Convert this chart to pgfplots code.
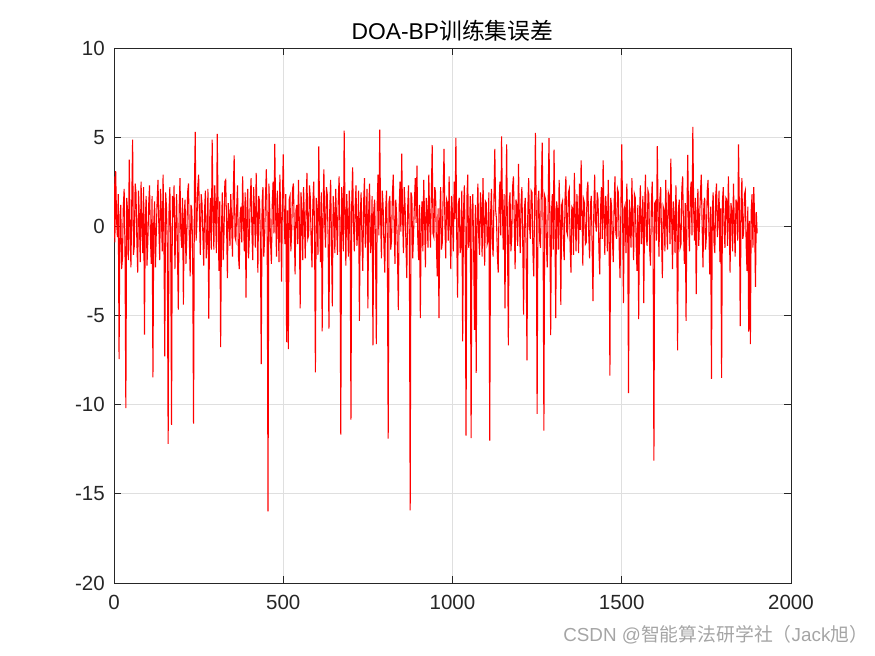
\documentclass[border=0pt]{standalone}
\usepackage{pgfplots}
\pgfplotsset{compat=1.18}
\usepackage{fontspec}
\setmainfont{Liberation Sans}
\newfontfamily\cjk{Noto Sans CJK SC}
\definecolor{axgray}{RGB}{38,38,38}
\definecolor{gridgray}{RGB}{223,223,223}
\definecolor{wmgray}{RGB}{165,165,165}
\begin{document}
\begin{tikzpicture}
\useasboundingbox (0,0) rectangle (525pt,393.6pt);
\begin{axis}[
  at={(68.4pt,43.8pt)}, anchor=south west,
  width=406.2pt, height=321pt, scale only axis,
  xmin=0, xmax=2000, ymin=-20, ymax=10,
  xtick={0,500,1000,1500,2000},
  ytick={-20,-15,-10,-5,0,5,10},
  grid=major,
  major grid style={gridgray, line width=0.5pt},
  axis line style={axgray, line width=0.55pt},
  tick style={axgray, line width=0.55pt},
  tick align=inside,
  major tick length=4pt,
  /pgf/number format/assume math mode=true,
  /pgf/number format/1000 sep={},
  ticklabel style={font=\fontsize{12.3}{14}\selectfont, text=axgray},
  xticklabel style={yshift=-3.8pt},
  yticklabel style={xshift=-2pt},
  title={DOA-BP{\cjk 训练集误差}},
  title style={font=\fontsize{13.7}{16}\selectfont, anchor=base, at={(0.5,1)}, yshift=-1.2pt},
]
\addplot[red, line width=0.65pt, mark=none] coordinates {
(0,2.8)(2.5,-0.9)(5,3.09)(7.5,0.4)(10,-0.6)(12.5,1.8)(15,-7.44)(17.5,0.6)(20,1.2)(22.5,-2.4)(25,-1.8)(27.5,1.1)(30,2.1)(32.5,-1.3)(35,-10.19)(37.5,1.6)(40,0.9)(42.5,-1.9)(45,3.74)(47.5,-0.2)(50,-2.3)(52.5,1.4)(55,4.86)(57.5,-1.6)(60,-1.1)(62.5,2.4)(65,1.9)(67.5,-0.8)(70,-2.6)(72.5,2.0)(75,0.4)(77.5,-2.0)(80,2.5)(82.5,0.1)(85,-1.5)(87.5,2.2)(90,-6.07)(92.5,0.3)(95,1.7)(97.5,-2.2)
(100,-0.8)(102.5,1.2)(105,2.3)(107.5,-0.5)(110,-2.1)(112.5,1.7)(115,-8.47)(117.5,0.2)(120,1.4)(122.5,-2.3)(125,-0.3)(127.5,1.5)(130,2.6)(132.5,0.0)(135,-1.9)(137.5,2.1)(140,0.7)(142.5,-1.4)(145,2.9)(147.5,-0.7)(150,-7.29)(152.5,1.9)(155,1.1)(157.5,-1.2)(160,-12.2)(162.5,0.8)(165,2.2)(167.5,-0.9)(170,-11.14)(172.5,1.7)(175,0.5)(177.5,2.3)(180,-2.4)(182.5,0.1)(185,1.8)(187.5,-1.5)(190,-4.67)(192.5,1.0)(195,2.7)(197.5,-0.4)
(200,-1.2)(202.5,1.6)(205,-4.39)(207.5,0.7)(210,1.5)(212.5,-2.1)(215,-0.7)(217.5,1.9)(220,2.4)(222.5,-0.6)(225,-2.8)(227.5,1.2)(230,0.9)(232.5,-1.7)(235,-11.07)(237.5,2.0)(240,5.29)(242.5,-0.8)(245,0.2)(247.5,2.2)(250,2.9)(252.5,0.5)(255,-1.6)(257.5,1.8)(260,1.3)(262.5,-0.4)(265,-2.2)(267.5,0.9)(270,2.0)(272.5,-1.8)(275,-0.9)(277.5,2.1)(280,-5.18)(282.5,0.3)(285,1.6)(287.5,-1.3)(290,4.86)(292.5,0.9)(295,-1.3)(297.5,2.3)
(300,0.8)(302.5,-1.5)(305,5.18)(307.5,1.0)(310,-2.5)(312.5,1.4)(315,-6.78)(317.5,-0.2)(320,1.9)(322.5,-1.9)(325,-0.4)(327.5,2.5)(330,2.6)(332.5,0.2)(335,-2.9)(337.5,1.3)(340,0.6)(342.5,-1.1)(345,1.8)(347.5,0.3)(350,-1.7)(352.5,2.0)(355,3.98)(357.5,-0.6)(360,-0.8)(362.5,1.1)(365,2.3)(367.5,-1.6)(370,-2.4)(372.5,0.7)(375,1.1)(377.5,-0.9)(380,2.8)(382.5,0.4)(385,-1.4)(387.5,1.9)(390,-4.0)(392.5,0.8)(395,2.1)(397.5,-1.8)
(400,-0.5)(402.5,1.5)(405,2.7)(407.5,-0.3)(410,-1.9)(412.5,2.2)(415,0.9)(417.5,-1.2)(420,3.0)(422.5,0.6)(425,-2.6)(427.5,1.7)(430,1.4)(432.5,-0.8)(435,-7.72)(437.5,1.3)(440,2.2)(442.5,-1.7)(445,-0.6)(447.5,1.6)(450,3.2)(452.5,0.1)(455,-15.98)(457.5,2.4)(460,1.0)(462.5,-0.9)(465,-2.1)(467.5,1.2)(470,2.5)(472.5,-0.4)(475,4.62)(477.5,0.8)(480,-1.7)(482.5,2.0)(485,0.3)(487.5,-2.0)(490,2.9)(492.5,0.5)(495,-3.1)(497.5,1.4)
(500,4.03)(502.5,0.6)(505,-1.0)(507.5,1.8)(510,-6.5)(512.5,0.9)(515,-6.88)(517.5,1.5)(520,1.7)(522.5,-1.4)(525,-0.2)(527.5,2.1)(530,2.4)(532.5,-0.1)(535,-2.7)(537.5,0.9)(540,1.2)(542.5,-1.0)(545,2.6)(547.5,0.2)(550,-4.6)(552.5,1.9)(555,0.8)(557.5,-1.9)(560,2.2)(562.5,0.4)(565,-1.8)(567.5,1.1)(570,3.0)(572.5,-0.7)(575,-0.5)(577.5,2.3)(580,1.6)(582.5,-0.9)(585,-2.3)(587.5,1.3)(590,2.5)(592.5,-0.3)(595,-8.19)(597.5,1.6)
(600,0.9)(602.5,-1.6)(605,4.49)(607.5,0.5)(610,-2.0)(612.5,1.9)(615,-5.89)(617.5,0.4)(620,3.2)(622.5,0.2)(625,-1.2)(627.5,2.2)(630,1.8)(632.5,-0.6)(635,-5.73)(637.5,1.0)(640,2.6)(642.5,-0.9)(645,-4.49)(647.5,1.7)(650,0.7)(652.5,-1.5)(655,2.1)(657.5,0.3)(660,-1.6)(662.5,1.4)(665,2.8)(667.5,-0.2)(670,-11.68)(672.5,2.2)(675,1.3)(677.5,-1.4)(680,5.37)(682.5,0.7)(685,-2.2)(687.5,1.8)(690,0.4)(692.5,-1.7)(695,2.0)(697.5,0.6)
(700,-10.84)(702.5,1.5)(705,3.3)(707.5,0.1)(710,-1.4)(712.5,1.1)(715,2.3)(717.5,-1.1)(720,-0.3)(722.5,2.0)(725,-5.3)(727.5,0.4)(730,1.9)(732.5,-0.7)(735,-2.5)(737.5,1.4)(740,2.7)(742.5,-1.2)(745,0.5)(747.5,2.1)(750,-4.6)(752.5,0.8)(755,2.4)(757.5,-1.5)(760,-0.9)(762.5,1.7)(765,-6.67)(767.5,0.9)(770,1.5)(772.5,-1.0)(775,-6.6)(777.5,1.2)(780,2.9)(782.5,-0.5)(785,5.42)(787.5,0.7)(790,-1.8)(792.5,2.0)(795,1.2)(797.5,-1.1)
(800,-2.6)(802.5,0.9)(805,2.0)(807.5,-0.8)(810,-11.9)(812.5,1.4)(815,1.7)(817.5,-1.3)(820,-0.8)(822.5,1.8)(825,2.9)(827.5,0.1)(830,-2.1)(832.5,1.5)(835,0.6)(837.5,-1.6)(840,-4.7)(842.5,1.1)(845,2.5)(847.5,-0.3)(850,4.08)(852.5,0.6)(855,-1.5)(857.5,2.2)(860,1.1)(862.5,-1.0)(865,-2.9)(867.5,1.0)(870,2.3)(872.5,-0.6)(875,-15.93)(877.5,1.9)(880,1.6)(882.5,-1.8)(885,-0.4)(887.5,1.3)(890,2.7)(892.5,0.2)(895,3.4)(897.5,-0.7)
(900,-1.9)(902.5,1.2)(905,-5.15)(907.5,0.3)(910,1.4)(912.5,-1.4)(915,2.6)(917.5,0.5)(920,-2.3)(922.5,1.6)(925,0.8)(927.5,-1.2)(930,2.9)(932.5,0.4)(935,-1.2)(937.5,1.8)(940,4.56)(942.5,-0.4)(945,-0.6)(947.5,2.2)(950,1.9)(952.5,-1.1)(955,-2.8)(957.5,1.0)(960,-5.15)(962.5,0.6)(965,2.2)(967.5,-1.3)(970,-0.9)(972.5,1.9)(975,4.34)(977.5,0.2)(980,-1.8)(982.5,1.5)(985,1.3)(987.5,-0.8)(990,2.8)(992.5,0.0)(995,-2.4)(997.5,1.7)
(1000,0.7)(1002.5,-1.4)(1005,2.5)(1007.5,0.4)(1010,4.96)(1012.5,-0.5)(1015,-4.0)(1017.5,1.3)(1020,1.6)(1022.5,-1.5)(1025,-1.1)(1027.5,2.0)(1030,-6.45)(1032.5,0.8)(1035,2.3)(1037.5,-0.9)(1040,-11.74)(1042.5,1.5)(1045,2.9)(1047.5,-1.2)(1050,-0.5)(1052.5,1.7)(1055,-11.87)(1057.5,0.9)(1060,1.8)(1062.5,-1.3)(1065,-5.8)(1067.5,1.2)(1070,-8.22)(1072.5,0.5)(1075,2.4)(1077.5,-0.6)(1080,-1.6)(1082.5,1.9)(1085,1.0)(1087.5,-1.7)(1090,2.7)(1092.5,0.3)(1095,-2.2)(1097.5,1.4)
(1100,1.3)(1102.5,-1.0)(1105,-0.8)(1107.5,1.9)(1110,-12.02)(1112.5,0.6)(1115,2.1)(1117.5,-0.7)(1120,-1.7)(1122.5,1.6)(1125,4.34)(1127.5,0.9)(1130,0.4)(1132.5,-1.6)(1135,-2.6)(1137.5,1.1)(1140,2.5)(1142.5,-0.5)(1145,5.05)(1147.5,1.0)(1150,-1.3)(1152.5,1.8)(1155,-4.6)(1157.5,0.7)(1160,4.6)(1162.5,-0.8)(1165,-6.67)(1167.5,1.3)(1170,1.9)(1172.5,-1.4)(1175,-0.6)(1177.5,2.2)(1180,2.8)(1182.5,0.2)(1185,-2.4)(1187.5,1.5)(1190,1.2)(1192.5,-1.1)(1195,3.5)(1197.5,0.4)
(1200,-1.5)(1202.5,1.3)(1205,2.2)(1207.5,-0.9)(1210,-4.95)(1212.5,1.0)(1215,1.6)(1217.5,-1.2)(1220,-7.51)(1222.5,0.9)(1225,2.7)(1227.5,0.0)(1230,-0.7)(1232.5,2.0)(1235,1.9)(1237.5,-1.4)(1240,-2.8)(1242.5,1.2)(1245,5.24)(1247.5,0.5)(1250,-10.52)(1252.5,1.4)(1255,2.0)(1257.5,-0.8)(1260,-1.2)(1262.5,2.1)(1265,4.7)(1267.5,0.3)(1270,-11.46)(1272.5,1.7)(1275,1.5)(1277.5,-1.1)(1280,-2.3)(1282.5,1.0)(1285,4.95)(1287.5,0.6)(1290,-6.1)(1292.5,0.8)(1295,1.8)(1297.5,-1.3)
(1300,4.3)(1302.5,0.2)(1305,-5.15)(1307.5,1.4)(1310,0.9)(1312.5,-1.3)(1315,2.6)(1317.5,0.6)(1320,-4.4)(1322.5,1.2)(1325,1.4)(1327.5,-0.9)(1330,-1.9)(1332.5,1.6)(1335,2.8)(1337.5,-0.3)(1340,-0.5)(1342.5,1.9)(1345,2.1)(1347.5,-1.2)(1350,-2.6)(1352.5,1.1)(1355,1.0)(1357.5,-1.6)(1360,3.0)(1362.5,0.7)(1365,-1.4)(1367.5,1.8)(1370,0.6)(1372.5,-1.5)(1375,2.4)(1377.5,-0.2)(1380,3.7)(1382.5,0.8)(1385,-2.2)(1387.5,1.5)(1390,1.3)(1392.5,-1.0)(1395,-0.9)(1397.5,2.0)
(1400,2.5)(1402.5,-0.5)(1405,-1.8)(1407.5,1.2)(1410,1.7)(1412.5,-1.1)(1415,-4.2)(1417.5,0.9)(1420,2.9)(1422.5,0.3)(1425,-0.3)(1427.5,1.9)(1430,1.5)(1432.5,-1.3)(1435,-2.7)(1437.5,1.0)(1440,2.2)(1442.5,-0.7)(1445,3.7)(1447.5,0.6)(1450,-1.6)(1452.5,1.7)(1455,0.8)(1457.5,-1.4)(1460,2.6)(1462.5,0.1)(1465,-8.37)(1467.5,1.6)(1470,1.1)(1472.5,-0.8)(1475,-2.0)(1477.5,1.3)(1480,2.8)(1482.5,-0.4)(1485,-0.7)(1487.5,2.1)(1490,1.9)(1492.5,-1.2)(1495,-2.9)(1497.5,1.1)
(1500,4.6)(1502.5,0.8)(1505,-4.3)(1507.5,1.0)(1510,1.2)(1512.5,-1.5)(1515,2.4)(1517.5,0.4)(1520,-9.35)(1522.5,1.5)(1525,0.5)(1527.5,-1.2)(1530,2.7)(1532.5,0.1)(1535,-1.9)(1537.5,1.8)(1540,1.6)(1542.5,-0.9)(1545,-2.5)(1547.5,1.2)(1550,-5.2)(1552.5,0.6)(1555,2.3)(1557.5,-1.0)(1560,0.2)(1562.5,1.7)(1565,-4.3)(1567.5,0.9)(1570,2.9)(1572.5,-0.6)(1575,-1.1)(1577.5,2.0)(1580,1.8)(1582.5,-1.3)(1585,-2.2)(1587.5,1.2)(1590,2.5)(1592.5,-0.4)(1595,-13.14)(1597.5,1.3)
(1600,1.4)(1602.5,-0.8)(1605,4.5)(1607.5,0.7)(1610,-1.7)(1612.5,1.5)(1615,2.2)(1617.5,-0.6)(1620,-2.9)(1622.5,1.1)(1625,0.9)(1627.5,-1.4)(1630,2.6)(1632.5,0.2)(1635,-1.3)(1637.5,1.9)(1640,1.7)(1642.5,-1.0)(1645,3.8)(1647.5,0.5)(1650,-2.4)(1652.5,1.4)(1655,0.6)(1657.5,-1.5)(1660,2.3)(1662.5,0.0)(1665,-6.95)(1667.5,1.0)(1670,1.5)(1672.5,-1.2)(1675,-1.0)(1677.5,2.1)(1680,2.8)(1682.5,-0.3)(1685,-2.1)(1687.5,1.3)(1690,-5.3)(1692.5,0.7)(1695,4.0)(1697.5,0.2)
(1700,-1.4)(1702.5,1.8)(1705,2.5)(1707.5,-0.5)(1710,5.57)(1712.5,0.9)(1715,-0.8)(1717.5,1.6)(1720,-3.8)(1722.5,0.5)(1725,2.1)(1727.5,-1.1)(1730,0.4)(1732.5,1.9)(1735,2.9)(1737.5,0.0)(1740,-2.3)(1742.5,1.2)(1745,1.6)(1747.5,-1.3)(1750,-0.6)(1752.5,2.0)(1755,2.6)(1757.5,-0.2)(1760,-2.7)(1762.5,1.1)(1765,-8.56)(1767.5,0.8)(1770,1.9)(1772.5,-0.9)(1775,-1.5)(1777.5,1.7)(1780,2.4)(1782.5,-0.6)(1785,0.7)(1787.5,2.0)(1790,-2.0)(1792.5,1.0)(1795,-8.5)(1797.5,1.4)
(1800,2.2)(1802.5,-0.3)(1805,-1.2)(1807.5,1.6)(1810,1.5)(1812.5,-1.1)(1815,2.8)(1817.5,0.4)(1820,-2.6)(1822.5,1.3)(1825,0.9)(1827.5,-1.4)(1830,2.4)(1832.5,0.1)(1835,-1.7)(1837.5,1.5)(1840,1.2)(1842.5,-0.8)(1845,4.6)(1847.5,0.9)(1850,-5.6)(1852.5,1.2)(1855,2.7)(1857.5,-0.7)(1860,-0.4)(1862.5,1.8)(1865,2.0)(1867.5,-1.0)(1870,-2.5)(1872.5,1.1)(1875,-5.9)(1877.5,0.3)(1880,-6.6)(1882.5,0.9)(1885,1.8)(1887.5,-1.2)(1890,2.2)(1892.5,0.5)(1895,-3.4)(1897.5,0.8)(1900,-0.4)
};
\end{axis}
\node[anchor=base west, text=wmgray, font=\fontsize{11.3}{13}\selectfont, inner sep=0pt] at (337.8pt,8.4pt) {CSDN @{\cjk 智能算法研学社（}Jack{\cjk 旭）}};
\end{tikzpicture}
\end{document}
